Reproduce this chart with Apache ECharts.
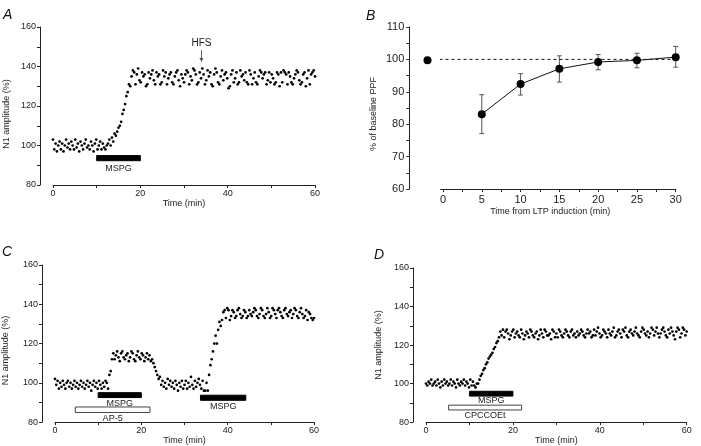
<!DOCTYPE html>
<html>
<head>
<meta charset="utf-8">
<script src="https://cdn.jsdelivr.net/npm/echarts@6/dist/echarts.min.js"></script>
<style>
html, body { margin: 0; padding: 0; background: #fff; }
#main { width: 701px; height: 446px; }
</style>
</head>
<body>
<div id="main"></div>
<script>
// sampling interval of the field-potential recordings (min)
var sampleStep = 0.3;

// panel A: N1 amplitude (%), MSPG then HFS
var ampA = [
  103, 98, 101, 97, 100, 102, 98, 101, 97, 100,
  103, 99, 101, 98, 102, 100, 98, 103, 99, 101,
  97, 102, 100, 98, 101, 103, 99, 100, 98, 102,
  100, 97, 101, 103, 98, 100, 102, 98, 101, 99,
  98, 100, 101, 103, 100, 104, 102, 106, 105, 107,
  109, 110, 112, 116, 118, 121, 125, 127, 131, 130,
  135, 138, 137, 131, 136, 139, 133, 132, 137, 135,
  136, 130, 131, 137, 134, 136, 138, 133, 131, 137,
  135, 136, 131, 132, 138, 135, 137, 131, 134, 136,
  137, 132, 131, 135, 137, 138, 133, 130, 136, 134,
  132, 136, 138, 137, 131, 135, 133, 139, 138, 136,
  131, 132, 137, 134, 139, 136, 131, 133, 138, 135,
  137, 131, 130, 136, 139, 137, 132, 131, 135, 138,
  133, 136, 137, 134, 129, 130, 136, 138, 132, 134,
  137, 131, 132, 138, 135, 136, 133, 137, 132, 131,
  138, 136, 131, 134, 137, 132, 131, 135, 138, 137,
  134, 136, 137, 131, 133, 137, 132, 136, 134, 131,
  132, 137, 136, 130, 137, 132, 138, 137, 136, 131,
  137, 135, 132, 131, 134, 136, 138, 137, 133, 131,
  132, 136, 137, 130, 134, 138, 131, 136, 137, 138,
  135
];

// panel C: MSPG in AP-5, then MSPG alone
var ampC = [
  102, 99, 101, 97, 100, 98, 101, 99, 97, 100,
  101, 98, 100, 97, 99, 101, 98, 100, 97, 99,
  101, 98, 100, 97, 99, 101, 98, 100, 96, 99,
  101, 98, 100, 97, 101, 99, 97, 100, 98, 101,
  100, 97, 104, 106, 112, 115, 112, 114, 116, 113,
  111, 115, 116, 113, 112, 114, 115, 111, 113, 116,
  115, 112, 111, 114, 116, 113, 112, 115, 114, 111,
  113, 115, 112, 114, 111, 112, 110, 108, 106, 104,
  102, 103, 99, 101, 98, 100, 97, 102, 99, 101,
  98, 100, 97, 101, 99, 96, 100, 98, 101, 97,
  99, 101, 97, 100, 98, 103, 99, 97, 101, 98,
  100, 102, 99, 97, 101, 96, 96, 100, 96, 104,
  109, 112, 116, 120, 124, 120, 127, 131, 129, 132,
  136, 137, 133, 138, 137, 132, 134, 137, 136, 133,
  134, 137, 138, 135, 133, 134, 137, 136, 133, 134,
  137, 135, 134, 136, 138, 137, 134, 133, 135, 138,
  137, 134, 133, 135, 138, 136, 133, 134, 138, 137,
  135, 133, 137, 138, 136, 134, 133, 137, 138, 135,
  134, 136, 137, 133, 135, 138, 137, 134, 133, 136,
  138, 135, 133, 134, 137, 132, 136, 135, 133, 132,
  133
];

// panel D: MSPG in CPCCOEt
var ampD = [
  100, 99, 101, 100, 102, 99, 100, 101, 99, 102,
  100, 98, 101, 99, 102, 100, 101, 99, 100, 102,
  99, 101, 100, 98, 102, 100, 99, 101, 100, 102,
  99, 101, 100, 98, 102, 99, 101, 99, 98, 100,
  100, 102, 104, 105, 107, 108, 110, 111, 113, 114,
  115, 116, 118, 119, 121, 122, 124, 127, 125, 128,
  124, 127, 128, 126, 123, 125, 127, 128, 124, 126,
  127, 125, 124, 128, 126, 123, 125, 127, 126, 124,
  128, 127, 125, 124, 126, 127, 123, 125, 128, 126,
  124, 128, 127, 125, 125, 126, 123, 128, 127, 124,
  126, 124, 128, 127, 125, 124, 126, 128, 127, 125,
  124, 127, 128, 125, 126, 124, 127, 125, 126, 128,
  127, 125, 124, 126, 128, 126, 127, 124, 125, 128,
  125, 127, 129, 126, 124, 125, 128, 127, 126, 124,
  128, 126, 125, 127, 129, 124, 125, 127, 128, 126,
  124, 128, 127, 129, 125, 124, 127, 128, 126, 125,
  127, 129, 126, 125, 124, 127, 129, 128, 126, 125,
  127, 124, 126, 129, 128, 125, 127, 129, 126, 124,
  126, 128, 129, 127, 125, 124, 128, 126, 129, 127,
  125, 123, 127, 129, 128, 124, 126, 129, 128, 125,
  127
];

// panel B: paired-pulse facilitation after LTP induction
var ppfTime = [5, 10, 15, 20, 25, 30];
var ppfMean = [83.1, 92.4, 97.1, 99.2, 99.7, 100.7];
var ppfLow = [77.1, 89.0, 93.0, 96.8, 97.4, 97.6];
var ppfHigh = [89.1, 95.6, 101.1, 101.5, 101.9, 104.0];
var baselineTime = [-2];
var baselinePpf = [99.7];
var baselineLevel = 100;

// drug applications: [label, start (min), end (min), filled]
var drugsA = [['MSPG', 10, 20, true]];
var drugsC = [['MSPG', 10, 20, true], ['AP-5', 4.7, 22, false], ['MSPG', 33.7, 44.2, true]];
var drugsD = [['MSPG', 10, 20, true], ['CPCCOEt', 5.2, 22, false]];

// HFS delivery time in panel A (min)
var hfsTime = [34];

var ppfTicks = [0, 5, 10, 15, 20, 25, 30];
var ppfMinorTicks = [0, 2.5, 5, 7.5, 10, 12.5, 15, 17.5, 20, 22.5, 25, 27.5, 30];

// vertical placement of bars (y units): [bottom, top, label]
var levelsA = [[92.3, 94.9, 88.1]];
var levelsC = [[92.5, 95.0, 89.6], [84.9, 87.7, 81.9], [91.1, 93.7, 87.8]];
var levelsD = [[93.5, 96.0, 91.3], [86.3, 88.8, 83.4]];

var FONT = '"Liberation Sans", Arial, sans-serif';
var INK = '#222';

var chart = echarts.init(document.getElementById('main'));

function timeSeries(values) {
  return values.map(function (v, i) { return [+(i * sampleStep).toFixed(2), v]; });
}

function ampXAxis(gi, gap, pad) {
  return {
    gridIndex: gi, type: 'value', min: 0, max: 60, interval: 20,
    axisLine: { show: true, onZero: false, lineStyle: { color: INK, width: 1 } },
    axisTick: { show: true, length: 3, lineStyle: { color: INK } },
    minorTick: { show: true, splitNumber: 2, length: 3, lineStyle: { color: INK } },
    axisLabel: { fontSize: 9, color: INK, fontFamily: FONT, margin: 4 },
    splitLine: { show: false },
    name: 'Time (min)', nameLocation: 'middle', nameGap: gap,
    nameTextStyle: { fontSize: 9, color: INK, fontFamily: FONT, padding: pad || 0 }
  };
}

function ampYAxis(gi, gap, pad) {
  return {
    gridIndex: gi, type: 'value', min: 80, max: 160, interval: 20, offset: 13,
    axisLine: { show: true, onZero: false, lineStyle: { color: INK, width: 1 } },
    axisTick: { show: true, length: 3, lineStyle: { color: INK } },
    minorTick: { show: true, splitNumber: 2, length: 3, lineStyle: { color: INK } },
    axisLabel: { fontSize: 9, color: INK, fontFamily: FONT, margin: 4 },
    splitLine: { show: false },
    name: 'N1 amplitude (%)', nameLocation: 'middle', nameGap: gap,
    nameTextStyle: { fontSize: 9, color: INK, fontFamily: FONT, padding: pad || 0 }
  };
}

function dotSeries(gi, values) {
  return {
    type: 'scatter', xAxisIndex: gi, yAxisIndex: gi, silent: true,
    symbol: 'circle', symbolSize: 2.7,
    itemStyle: { color: '#000', opacity: 1 },
    data: timeSeries(values)
  };
}

function drugSeries(gi, drugs, levels) {
  return {
    type: 'custom', xAxisIndex: gi, yAxisIndex: gi, silent: true, clip: false,
    data: drugs.map(function (d, i) { return [d[1], levels[i][0], d[2], levels[i][1]]; }),
    renderItem: function (params, api) {
      var d = drugs[params.dataIndex];
      var lv = levels[params.dataIndex];
      var p0 = api.coord([api.value(0), api.value(3)]);
      var p1 = api.coord([api.value(2), api.value(1)]);
      var pl = api.coord([(api.value(0) + api.value(2)) / 2, lv[2]]);
      return {
        type: 'group',
        children: [
          {
            type: 'rect',
            shape: { x: p0[0], y: p0[1], width: p1[0] - p0[0], height: p1[1] - p0[1] },
            style: { fill: d[3] ? '#000' : '#fff', stroke: d[3] ? '#000' : '#444', lineWidth: 1 }
          },
          {
            type: 'text', x: pl[0], y: pl[1],
            style: { text: d[0], fill: INK, font: '9px ' + FONT, align: 'center', verticalAlign: 'middle' }
          }
        ]
      };
    }
  };
}

var option = {
  animation: false,
  backgroundColor: '#fff',
  grid: [
    { left: 53, top: 27, width: 262, height: 158 },
    { left: 440.7, top: 27, width: 235, height: 162 },
    { left: 52, top: 265, width: 262, height: 159 },
    { left: 426, top: 268, width: 260.7, height: 158 }
  ],
  xAxis: [
    ampXAxis(0, 13),
    {
      gridIndex: 1, type: 'value', min: -0.3, max: 30,
      axisLine: { show: true, onZero: false, lineStyle: { color: INK, width: 1 } },
      axisTick: { show: true, length: 3, customValues: ppfMinorTicks, lineStyle: { color: INK } },
      axisLabel: { fontSize: 11, color: INK, fontFamily: FONT, margin: 5, customValues: ppfTicks },
      splitLine: { show: false },
      name: 'Time from LTP induction (min)', nameLocation: 'middle', nameGap: 18,
      nameTextStyle: { fontSize: 9, color: INK, fontFamily: FONT, padding: [0, 16, 0, 0] }
    },
    ampXAxis(2, 12),
    ampXAxis(3, 6)
  ],
  yAxis: [
    ampYAxis(0, 29, [0, 16, 0, 0]),
    {
      gridIndex: 1, type: 'value', min: 60, max: 110, interval: 10, offset: 31.4,
      axisLine: { show: true, onZero: false, lineStyle: { color: INK, width: 1 } },
      axisTick: { show: true, length: 3, lineStyle: { color: INK } },
      minorTick: { show: true, splitNumber: 2, length: 3, lineStyle: { color: INK } },
      axisLabel: { fontSize: 11, color: INK, fontFamily: FONT, margin: 5 },
      splitLine: { show: false },
      name: '% of baseline PPF', nameLocation: 'middle', nameGap: 31,
      nameTextStyle: { fontSize: 9, color: INK, fontFamily: FONT, padding: [0, 12, 0, 0] }
    },
    ampYAxis(2, 32, [0, 14, 0, 0]),
    ampYAxis(3, 30)
  ],
  graphic: [
    { type: 'text', left: 3, top: 8, style: { text: 'A', font: 'italic 14px ' + FONT, fill: '#111' } },
    { type: 'text', left: 366, top: 9, style: { text: 'B', font: 'italic 14px ' + FONT, fill: '#111' } },
    { type: 'text', left: 2, top: 245, style: { text: 'C', font: 'italic 14px ' + FONT, fill: '#111' } },
    { type: 'text', left: 374, top: 248, style: { text: 'D', font: 'italic 14px ' + FONT, fill: '#111' } }
  ],
  series: [
    dotSeries(0, ampA),
    drugSeries(0, drugsA, levelsA),
    {
      type: 'custom', xAxisIndex: 0, yAxisIndex: 0, silent: true, clip: false,
      data: hfsTime.map(function (t) { return [t, 150]; }),
      renderItem: function (params, api) {
        var t = api.value(0);
        var txt = api.coord([t, 151.6]);
        var a0 = api.coord([t, 148.2]);
        var a1 = api.coord([t, 142.3]);
        return {
          type: 'group',
          children: [
            { type: 'text', x: txt[0], y: txt[1],
              style: { text: 'HFS', fill: INK, font: '10px ' + FONT, align: 'center', verticalAlign: 'middle' } },
            { type: 'line', shape: { x1: a0[0], y1: a0[1], x2: a1[0], y2: a1[1] - 3 },
              style: { stroke: '#555', lineWidth: 1 } },
            { type: 'polygon', shape: { points: [[a1[0] - 2, a1[1] - 4], [a1[0] + 2, a1[1] - 4], [a1[0], a1[1]]] },
              style: { fill: '#555' } }
          ]
        };
      }
    },
    // panel B
    {
      type: 'line', xAxisIndex: 1, yAxisIndex: 1, silent: true, clip: false,
      symbol: 'none',
      lineStyle: { color: '#111', width: 1, type: [3, 3] },
      data: [[baselineTime[0], baselineLevel], [ppfTime[ppfTime.length - 1], baselineLevel]]
    },
    {
      type: 'custom', xAxisIndex: 1, yAxisIndex: 1, silent: true, clip: false,
      data: ppfTime.map(function (t, i) { return [t, ppfLow[i], ppfHigh[i]]; }),
      encode: { x: 0, y: [1, 2] },
      renderItem: function (params, api) {
        var lo = api.coord([api.value(0), api.value(1)]);
        var hi = api.coord([api.value(0), api.value(2)]);
        var c = 2.5;
        var st = { stroke: '#555', lineWidth: 1 };
        return {
          type: 'group',
          children: [
            { type: 'line', shape: { x1: lo[0], y1: lo[1], x2: hi[0], y2: hi[1] }, style: st },
            { type: 'line', shape: { x1: lo[0] - c, y1: lo[1], x2: lo[0] + c, y2: lo[1] }, style: st },
            { type: 'line', shape: { x1: hi[0] - c, y1: hi[1], x2: hi[0] + c, y2: hi[1] }, style: st }
          ]
        };
      }
    },
    {
      type: 'line', xAxisIndex: 1, yAxisIndex: 1, silent: true, clip: false,
      symbol: 'circle', symbolSize: 8,
      itemStyle: { color: '#000', opacity: 1 },
      lineStyle: { color: '#111', width: 1 },
      data: ppfTime.map(function (t, i) { return [t, ppfMean[i]]; })
    },
    {
      type: 'scatter', xAxisIndex: 1, yAxisIndex: 1, silent: true, clip: false,
      symbol: 'circle', symbolSize: 8,
      itemStyle: { color: '#000', opacity: 1 },
      data: baselineTime.map(function (t, i) { return [t, baselinePpf[i]]; })
    },
    // panel C
    dotSeries(2, ampC),
    drugSeries(2, drugsC, levelsC),
    // panel D
    dotSeries(3, ampD),
    drugSeries(3, drugsD, levelsD)
  ]
};

chart.setOption(option);
</script>
</body>
</html>
